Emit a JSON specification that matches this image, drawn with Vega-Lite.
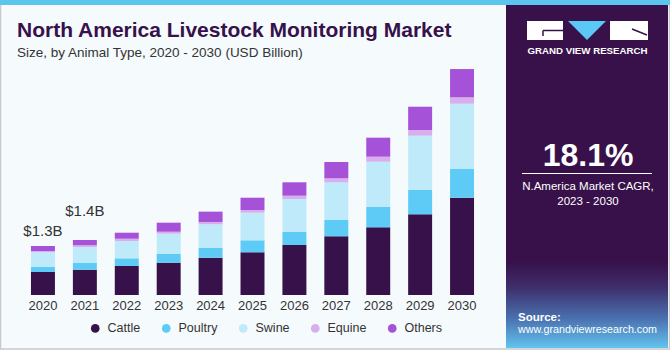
{
  "$schema": "https://vega.github.io/schema/vega-lite/v6.json",
  "width": 670,
  "height": 295,
  "autosize": "none",
  "padding": {"left": 0, "top": 0, "right": 0, "bottom": 55},
  "background": "#F5FAFD",
  "config": {
    "view": {"stroke": null},
    "font": "Liberation Sans",
    "title": {"anchor": "start", "frame": "group", "dx": 17, "offset": -59, "font": "Liberation Sans", "fontSize": 21, "fontWeight": "bold", "color": "#37114A", "subtitleFont": "Liberation Sans", "subtitleFontSize": 13.5, "subtitleColor": "#333333", "subtitlePadding": 5}
  },
  "title": {"text": "North America Livestock Monitoring Market", "subtitle": "Size, by Animal Type, 2020 - 2030 (USD Billion)"},
  "datasets": {
    "bars": [
      {"year": "2020", "type": "Cattle", "value": 0.597}, {"year": "2020", "type": "Poultry", "value": 0.138}, {"year": "2020", "type": "Swine", "value": 0.374}, {"year": "2020", "type": "Equine", "value": 0.034}, {"year": "2020", "type": "Others", "value": 0.130},
      {"year": "2021", "type": "Cattle", "value": 0.657}, {"year": "2021", "type": "Poultry", "value": 0.174}, {"year": "2021", "type": "Swine", "value": 0.416}, {"year": "2021", "type": "Equine", "value": 0.044}, {"year": "2021", "type": "Others", "value": 0.138},
      {"year": "2022", "type": "Cattle", "value": 0.753}, {"year": "2022", "type": "Poultry", "value": 0.200}, {"year": "2022", "type": "Swine", "value": 0.449}, {"year": "2022", "type": "Equine", "value": 0.060}, {"year": "2022", "type": "Others", "value": 0.156},
      {"year": "2023", "type": "Cattle", "value": 0.839}, {"year": "2023", "type": "Poultry", "value": 0.226}, {"year": "2023", "type": "Swine", "value": 0.527}, {"year": "2023", "type": "Equine", "value": 0.052}, {"year": "2023", "type": "Others", "value": 0.234},
      {"year": "2024", "type": "Cattle", "value": 0.969}, {"year": "2024", "type": "Poultry", "value": 0.252}, {"year": "2024", "type": "Swine", "value": 0.616}, {"year": "2024", "type": "Equine", "value": 0.060}, {"year": "2024", "type": "Others", "value": 0.268},
      {"year": "2025", "type": "Cattle", "value": 1.109}, {"year": "2025", "type": "Poultry", "value": 0.312}, {"year": "2025", "type": "Swine", "value": 0.717}, {"year": "2025", "type": "Equine", "value": 0.070}, {"year": "2025", "type": "Others", "value": 0.319},
      {"year": "2026", "type": "Cattle", "value": 1.299}, {"year": "2026", "type": "Poultry", "value": 0.345}, {"year": "2026", "type": "Swine", "value": 0.849}, {"year": "2026", "type": "Equine", "value": 0.086}, {"year": "2026", "type": "Others", "value": 0.348},
      {"year": "2027", "type": "Cattle", "value": 1.525}, {"year": "2027", "type": "Poultry", "value": 0.423}, {"year": "2027", "type": "Swine", "value": 0.979}, {"year": "2027", "type": "Equine", "value": 0.104}, {"year": "2027", "type": "Others", "value": 0.423},
      {"year": "2028", "type": "Cattle", "value": 1.758}, {"year": "2028", "type": "Poultry", "value": 0.527}, {"year": "2028", "type": "Swine", "value": 1.177}, {"year": "2028", "type": "Equine", "value": 0.130}, {"year": "2028", "type": "Others", "value": 0.494},
      {"year": "2029", "type": "Cattle", "value": 2.096}, {"year": "2029", "type": "Poultry", "value": 0.631}, {"year": "2029", "type": "Swine", "value": 1.410}, {"year": "2029", "type": "Equine", "value": 0.148}, {"year": "2029", "type": "Others", "value": 0.605},
      {"year": "2030", "type": "Cattle", "value": 2.527}, {"year": "2030", "type": "Poultry", "value": 0.745}, {"year": "2030", "type": "Swine", "value": 1.696}, {"year": "2030", "type": "Equine", "value": 0.166}, {"year": "2030", "type": "Others", "value": 0.735}
    ]
  },
  "layer": [
    {
      "data": {"values": [{}]},
      "mark": {"type": "rect", "fill": null, "stroke": "#C9C9C9", "strokeWidth": 1.5},
      "encoding": {"x": {"value": 0.5}, "x2": {"value": 669.5}, "y": {"value": 4}, "y2": {"value": 349}}
    },
    {
      "data": {"values": [{}]},
      "mark": {"type": "rect", "fill": "#5BC5EE"},
      "encoding": {"x": {"value": 0}, "x2": {"value": 670}, "y": {"value": 0}, "y2": {"value": 5}}
    },
    {
      "data": {"name": "bars"},
      "transform": [{"calculate": "indexof(['Cattle','Poultry','Swine','Equine','Others'], datum.type)", "as": "stackRank"}],
      "mark": {"type": "bar"},
      "encoding": {
        "x": {"field": "year", "type": "ordinal", "scale": {"range": [0, 505], "paddingInner": 0.428, "paddingOuter": 0.739},
          "axis": {"title": null, "domain": false, "ticks": false, "labelAngle": 0, "labelFontSize": 13, "labelColor": "#333333", "labelPadding": 4, "labelFont": "Liberation Sans"}},
        "y": {"field": "value", "type": "quantitative", "stack": "zero", "scale": {"domain": [0, 7.662], "nice": false}, "axis": null},
        "order": {"field": "stackRank", "type": "quantitative", "sort": "ascending"},
        "color": {"field": "type", "type": "nominal", "sort": ["Cattle", "Poultry", "Swine", "Equine", "Others"],
          "scale": {"domain": ["Cattle", "Poultry", "Swine", "Equine", "Others"], "range": ["#37114A", "#5ECBF6", "#BEEAF9", "#D8AEEE", "#A652D8"]},
          "legend": {"title": null, "orient": "none", "legendX": 89, "legendY": 322, "direction": "horizontal", "symbolType": "circle", "symbolSize": 75, "symbolStrokeWidth": 0, "labelFontSize": 12.5, "labelColor": "#333333", "labelFont": "Liberation Sans", "columnPadding": 19, "labelOffset": 6, "padding": 0}}
      }
    },
    {
      "data": {"values": [{"year": "2020", "total": 1.273, "label": "$1.3B"}]},
      "mark": {"type": "text", "fontSize": 15, "color": "#333333", "dy": -10, "baseline": "alphabetic"},
      "encoding": {"x": {"field": "year", "type": "ordinal"}, "y": {"field": "total", "type": "quantitative"}, "text": {"field": "label"}}
    },
    {
      "data": {"values": [{"year": "2021", "total": 1.429, "label": "$1.4B"}]},
      "mark": {"type": "text", "fontSize": 15, "color": "#333333", "dy": -24, "baseline": "alphabetic"},
      "encoding": {"x": {"field": "year", "type": "ordinal"}, "y": {"field": "total", "type": "quantitative"}, "text": {"field": "label"}}
    },
    {
      "data": {"values": [{}]},
      "mark": {"type": "rect", "fill": "#38114A"},
      "encoding": {"x": {"value": 506}, "x2": {"value": 668}, "y": {"value": 5}, "y2": {"value": 348}}
    },
    {
      "data": {"values": [{}]},
      "mark": {"type": "rect", "fill": {"gradient": "linear", "x1": 0, "y1": 0, "x2": 0, "y2": 1, "stops": [{"offset": 0, "color": "#38114A"}, {"offset": 0.3, "color": "#3E2F6C"}, {"offset": 0.65, "color": "#4A6FAE"}, {"offset": 1, "color": "#62C4EE"}]}},
      "encoding": {"x": {"value": 506}, "x2": {"value": 668}, "y": {"value": 262}, "y2": {"value": 348}}
    },
    {
      "data": {"values": [{}]},
      "mark": {"type": "rect", "fill": "#FFFFFF"},
      "encoding": {"x": {"value": 527}, "x2": {"value": 563}, "y": {"value": 21}, "y2": {"value": 40}}
    },
    {
      "data": {"values": [{}]},
      "mark": {"type": "rect", "fill": "#FFFFFF"},
      "encoding": {"x": {"value": 610}, "x2": {"value": 648}, "y": {"value": 21}, "y2": {"value": 40}}
    },
    {
      "data": {"values": [{}]},
      "mark": {"type": "rule", "color": "#38114A", "strokeWidth": 1.5},
      "encoding": {"x": {"value": 543}, "x2": {"value": 563}, "y": {"value": 30.5}, "y2": {"value": 30.5}}
    },
    {
      "data": {"values": [{}]},
      "mark": {"type": "rule", "color": "#38114A", "strokeWidth": 1.5},
      "encoding": {"x": {"value": 543}, "x2": {"value": 543}, "y": {"value": 30.5}, "y2": {"value": 36}}
    },
    {
      "data": {"values": [{}]},
      "mark": {"type": "rule", "color": "#38114A", "strokeWidth": 1.5},
      "encoding": {"x": {"value": 632}, "x2": {"value": 647}, "y": {"value": 29}, "y2": {"value": 35}}
    },
    {
      "data": {"values": [{}]},
      "mark": {"type": "point", "shape": "M-1,-0.5L1,-0.5L0,0.5Z", "filled": true, "fill": "#5BC8F5", "opacity": 1, "strokeWidth": 0, "size": 1444},
      "encoding": {"x": {"value": 587}, "y": {"value": 30.5}}
    },
    {
      "data": {"values": [{}]},
      "mark": {"type": "text", "text": "GRAND VIEW RESEARCH", "fontSize": 9.7, "fontWeight": "bold", "color": "#FFFFFF", "align": "center", "baseline": "alphabetic"},
      "encoding": {"x": {"value": 587.5}, "y": {"value": 53.5}}
    },
    {
      "data": {"values": [{}]},
      "mark": {"type": "text", "text": "18.1%", "fontSize": 32, "fontWeight": "bold", "color": "#FFFFFF", "align": "center", "baseline": "alphabetic"},
      "encoding": {"x": {"value": 588}, "y": {"value": 166}}
    },
    {
      "data": {"values": [{}]},
      "mark": {"type": "rule", "color": "#FFFFFF", "strokeWidth": 1},
      "encoding": {"x": {"value": 522}, "x2": {"value": 652}, "y": {"value": 173.5}, "y2": {"value": 173.5}}
    },
    {
      "data": {"values": [{}]},
      "mark": {"type": "text", "text": "N.America Market CAGR,", "fontSize": 11.5, "color": "#FFFFFF", "align": "center", "baseline": "alphabetic"},
      "encoding": {"x": {"value": 588}, "y": {"value": 190}}
    },
    {
      "data": {"values": [{}]},
      "mark": {"type": "text", "text": "2023 - 2030", "fontSize": 11.5, "color": "#FFFFFF", "align": "center", "baseline": "alphabetic"},
      "encoding": {"x": {"value": 588}, "y": {"value": 205}}
    },
    {
      "data": {"values": [{}]},
      "mark": {"type": "text", "text": "Source:", "fontSize": 11.5, "fontWeight": "bold", "color": "#FFFFFF", "align": "left", "baseline": "alphabetic"},
      "encoding": {"x": {"value": 518}, "y": {"value": 320.5}}
    },
    {
      "data": {"values": [{}]},
      "mark": {"type": "text", "text": "www.grandviewresearch.com", "fontSize": 10.7, "color": "#FFFFFF", "align": "left", "baseline": "alphabetic"},
      "encoding": {"x": {"value": 518}, "y": {"value": 332.5}}
    }
  ]
}
